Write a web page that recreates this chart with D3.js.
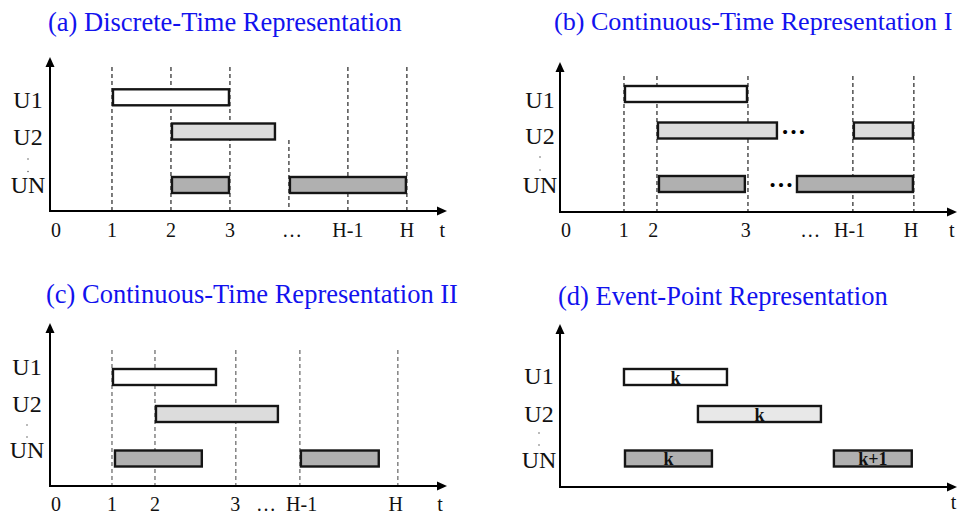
<!DOCTYPE html>
<html>
<head>
<meta charset="utf-8">
<script src="https://cdn.jsdelivr.net/npm/d3@7"></script>
<style>
  html, body { margin: 0; padding: 0; background: #ffffff; }
  svg text { font-family: "Liberation Serif", "Times New Roman", serif; }
</style>
</head>
<body>
<script>
// ---------------- DATA ----------------
const titles = [
  "(a) Discrete-Time Representation",
  "(b) Continuous-Time Representation I",
  "(c) Continuous-Time Representation II",
  "(d) Event-Point Representation"
];
const units = ["U1", "U2", "UN"];

// (a) discrete time: evenly spaced grid
const tickLabelsA = ["0", "1", "2", "3", "…", "H-1", "H"];
const tickTimesA  = [0.05, 1, 2, 3, 4.05, 5, 6];
const eventTimesA = [1, 2, 3, 5, 6];
const shortEventTimesA = [4];
const barsA = [
  { unit: "U1", start: 1, end: 3 },
  { unit: "U2", start: 2, end: 3.78 },
  { unit: "UN", start: 2, end: 3 },
  { unit: "UN", start: 4, end: 6 }
];

// (b) continuous time I
const tickLabelsB = ["0", "1", "2", "3", "…", "H-1", "H"];
const tickTimesB  = [0.05, 1.03, 1.53, 3.1, 4.19, 4.86, 5.9];
const eventTimesB = [1.034, 1.593, 3.136, 4.915, 5.949];
const barsB = [
  { unit: "U1", start: 1.034, end: 3.136 },
  { unit: "U2", start: 1.593, end: 3.644 },
  { unit: "U2", start: 4.915, end: 5.949 },
  { unit: "UN", start: 1.61, end: 3.1 },
  { unit: "UN", start: 3.95, end: 5.949 }
];
const gapDotsB = [
  { unit: "U2", t: 3.907 },
  { unit: "UN", t: 3.695 }
];

// (c) continuous time II
const tickLabelsC = ["0", "1", "2", "3", "…", "H-1", "H"];
const tickTimesC  = [0.05, 1.0, 1.729, 3.09, 3.61, 4.215, 5.81];
const eventTimesC = [1.0, 1.729, 3.1, 4.186, 5.847];
const barsC = [
  { unit: "U1", start: 1.0, end: 2.78 },
  { unit: "U2", start: 1.729, end: 3.83 },
  { unit: "UN", start: 1.034, end: 2.54 },
  { unit: "UN", start: 4.186, end: 5.54 }
];

// (d) event points
const barsD = [
  { unit: "U1", start: 1.017, end: 2.797, label: "k" },
  { unit: "U2", start: 2.271, end: 4.39, label: "k" },
  { unit: "UN", start: 1.034, end: 2.542, label: "k" },
  { unit: "UN", start: 4.576, end: 5.93, label: "k+1" }
];

const axisLabel = "t";
const axisEndTime = 6.68;

// ---------------- LAYOUT (pixel positions / styles) ----------------
const layout = [
  { ox: 50, axisY: 211, topY: 57, dashTop: 67, shortDashTop: 140,
    barY: [97.3, 131.5, 185], labelY: [108, 145, 193], labelX: 28, dotsY: [159, 171.5],
    tickY: 237, tY: 237, tX: 6.6, tAnchor: "middle", titleX: 48, titleY: 31, titleSize: 26.5,
    dashColor: "#111", fills: ["#ffffff", "#dcdcdc", "#b0b0b0"],
    ticks: tickLabelsA, tickT: tickTimesA, events: eventTimesA, shortEvents: shortEventTimesA,
    bars: barsA, dots: [] },
  { ox: 560, axisY: 212, topY: 62, dashTop: 76, shortDashTop: null,
    barY: [94, 130.5, 184], labelY: [108, 144, 192.5], labelX: 540, dotsY: [157, 170],
    tickY: 237, tY: 237, tX: 6.59, tAnchor: "middle", titleX: 554, titleY: 30, titleSize: 26.1,
    dashColor: "#111", fills: ["#ffffff", "#dcdcdc", "#b0b0b0"],
    ticks: tickLabelsB, tickT: tickTimesB, events: eventTimesB, shortEvents: [],
    bars: barsB, dots: gapDotsB },
  { ox: 50, axisY: 486, topY: 323, dashTop: 350, shortDashTop: null,
    barY: [377, 414, 458.5], labelY: [375, 411.5, 458], labelX: 27, dotsY: [425, 437],
    tickY: 511, tY: 511, tX: 6.56, tAnchor: "middle", titleX: 46, titleY: 303, titleSize: 26.5,
    dashColor: "#555", fills: ["#ffffff", "#dcdcdc", "#b0b0b0"],
    ticks: tickLabelsC, tickT: tickTimesC, events: eventTimesC, shortEvents: [],
    bars: barsC, dots: [] },
  { ox: 560, axisY: 487, topY: 324, dashTop: null, shortDashTop: null,
    barY: [377, 414, 458.5], labelY: [384, 421.5, 468], labelX: 539, dotsY: [433, 445],
    tickY: 511, tY: 509, tX: 6.67, tAnchor: "end", titleX: 558, titleY: 305, titleSize: 26.5,
    dashColor: "#111", fills: ["#ffffff", "#e8e8e8", "#b0b0b0"],
    ticks: [], tickT: [], events: [], shortEvents: [],
    bars: barsD, dots: [] }
];

const barH = 16;

// ---------------- DRAW ----------------
const svg = d3.select("body").append("svg")
  .attr("width", 960).attr("height", 515);

layout.forEach((L, i) => {
  const g = svg.append("g");
  const x = d3.scaleLinear().domain([0, axisEndTime]).range([L.ox + 3, L.ox + 397]);
  const y = d3.scaleOrdinal().domain(units).range(L.barY);
  const yl = d3.scaleOrdinal().domain(units).range(L.labelY);
  const fill = d3.scaleOrdinal().domain(units).range(L.fills);

  // title
  g.append("text")
    .attr("x", L.titleX).attr("y", L.titleY)
    .attr("fill", "#1212ee").attr("font-size", L.titleSize)
    .text(titles[i]);

  // dashed event lines
  if (L.dashTop !== null) {
    g.selectAll("line.ev").data(L.events).join("line")
      .attr("class", "ev")
      .attr("x1", d => x(d)).attr("x2", d => x(d))
      .attr("y1", L.dashTop).attr("y2", L.axisY)
      .attr("stroke", L.dashColor).attr("stroke-width", 1.1)
      .attr("stroke-dasharray", "4,3");
  }
  if (L.shortDashTop !== null) {
    g.selectAll("line.sev").data(L.shortEvents).join("line")
      .attr("class", "sev")
      .attr("x1", d => x(d)).attr("x2", d => x(d))
      .attr("y1", L.shortDashTop).attr("y2", L.axisY)
      .attr("stroke", L.dashColor).attr("stroke-width", 1.1)
      .attr("stroke-dasharray", "4,3");
  }

  // bars
  g.selectAll("rect.bar").data(L.bars).join("rect")
    .attr("class", "bar")
    .attr("x", d => x(d.start) + 1)
    .attr("width", d => x(d.end) - x(d.start) - 2)
    .attr("y", d => y(d.unit) - barH / 2)
    .attr("height", barH)
    .attr("fill", d => fill(d.unit))
    .attr("stroke", "#151515").attr("stroke-width", 2.4);

  // bar labels (event points)
  g.selectAll("text.bl").data(L.bars.filter(d => d.label)).join("text")
    .attr("class", "bl")
    .attr("x", d => (x(d.start) + x(d.end)) / 2)
    .attr("y", d => y(d.unit) + 6.5)
    .attr("text-anchor", "middle")
    .attr("font-weight", "bold").attr("font-size", 18)
    .attr("fill", "#111")
    .text(d => d.label);

  // gap ellipses between bars
  g.selectAll("text.gap").data(L.dots).join("text")
    .attr("class", "gap")
    .attr("x", d => x(d.t)).attr("y", d => y(d.unit) + 3)
    .attr("text-anchor", "middle")
    .attr("font-weight", "bold").attr("font-size", 25)
    .attr("fill", "#000")
    .text("…");

  // axes
  g.append("line")
    .attr("x1", L.ox).attr("x2", L.ox)
    .attr("y1", L.axisY + 1).attr("y2", L.topY + 8)
    .attr("stroke", "#000").attr("stroke-width", 2);
  g.append("line")
    .attr("x1", L.ox - 1).attr("x2", x(axisEndTime) - 8)
    .attr("y1", L.axisY).attr("y2", L.axisY)
    .attr("stroke", "#000").attr("stroke-width", 2);
  g.append("path")
    .attr("d", `M${L.ox},${L.topY} L${L.ox - 4.5},${L.topY + 10} L${L.ox + 4.5},${L.topY + 10} Z`)
    .attr("fill", "#000");
  const xe = x(axisEndTime);
  g.append("path")
    .attr("d", `M${xe},${L.axisY} L${xe - 10},${L.axisY - 4.5} L${xe - 10},${L.axisY + 4.5} Z`)
    .attr("fill", "#000");

  // unit labels
  g.selectAll("text.ul").data(units).join("text")
    .attr("class", "ul")
    .attr("x", L.labelX).attr("y", d => yl(d))
    .attr("text-anchor", "middle").attr("font-size", 24)
    .attr("fill", "#111")
    .text(d => d);
  g.selectAll("circle.vd").data(L.dotsY).join("circle")
    .attr("class", "vd")
    .attr("cx", L.labelX).attr("cy", d => d).attr("r", 0.7)
    .attr("fill", "#444");

  // tick labels
  g.selectAll("text.tk").data(L.ticks).join("text")
    .attr("class", "tk")
    .attr("x", (d, j) => x(L.tickT[j])).attr("y", L.tickY)
    .attr("text-anchor", "middle").attr("font-size", 20)
    .attr("fill", "#111")
    .text(d => d);

  // axis label t
  g.append("text")
    .attr("x", x(L.tX)).attr("y", L.tY)
    .attr("text-anchor", L.tAnchor).attr("font-size", 20)
    .attr("fill", "#111")
    .text(axisLabel);
});
</script>
</body>
</html>
